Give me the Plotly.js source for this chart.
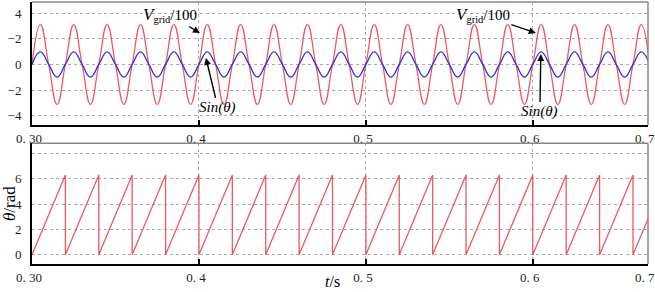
<!DOCTYPE html>
<html>
<head>
<meta charset="utf-8">
<script src="https://cdn.plot.ly/plotly-3.0.1.min.js"></script>
<style>
html,body{margin:0;padding:0;background:#fff;}
#chart{width:655px;height:292px;}
</style>
</head>
<body>
<div id="chart"></div>
<script>
// Time samples (s) at peaks / zero crossings
const waveT = [0.300,0.305,0.310,0.315,0.320,0.325,0.330,0.335,0.340,0.345,
  0.350,0.355,0.360,0.365,0.370,0.375,0.380,0.385,0.390,0.395,
  0.400,0.405,0.410,0.415,0.420,0.425,0.430,0.435,0.440,0.445,
  0.450,0.455,0.460,0.465,0.470,0.475,0.480,0.485,0.490,0.495,
  0.500,0.505,0.510,0.515,0.520,0.525,0.530,0.535,0.540,0.545,
  0.550,0.555,0.560,0.565,0.570,0.575,0.580,0.585,0.590,0.595,
  0.600,0.605,0.610,0.615,0.620,0.625,0.630,0.635,0.640,0.645,
  0.650,0.655,0.660,0.665,0.670];
// Vgrid/100 values at those instants
const vgrid = [0,3.12,0,-3.12,0,3.12,0,-3.12,0,3.12,
  0,-3.12,0,3.12,0,-3.12,0,3.12,0,-3.12,
  0,3.12,0,-3.12,0,3.12,0,-3.12,0,3.12,
  0,-3.12,0,3.12,0,-3.12,0,3.12,0,-3.12,
  0,3.12,0,-3.12,0,3.12,0,-3.12,0,3.12,
  0,-3.12,0,3.12,0,-3.12,0,3.12,0,-3.12,
  0,3.12,0,-3.12,0,3.12,0,-3.12,0,3.12,
  0,-3.12,0,3.12,0];
// Sin(theta) values at those instants
const sinTheta = [0,0.98,0,-0.98,0,0.98,0,-0.98,0,0.98,
  0,-0.98,0,0.98,0,-0.98,0,0.98,0,-0.98,
  0,0.98,0,-0.98,0,0.98,0,-0.98,0,0.98,
  0,-0.98,0,0.98,0,-0.98,0,0.98,0,-0.98,
  0,0.98,0,-0.98,0,0.98,0,-0.98,0,0.98,
  0,-0.98,0,0.98,0,-0.98,0,0.98,0,-0.98,
  0,0.98,0,-0.98,0,0.98,0,-0.98,0,0.98,
  0,-0.98,0,0.98,0];
// Phase angle theta (rad): start, reset instants, end
const thetaT = [0.300,
  0.320,0.320,0.340,0.340,0.360,0.360,0.380,0.380,0.400,0.400,
  0.420,0.420,0.440,0.440,0.460,0.460,0.480,0.480,0.500,0.500,
  0.520,0.520,0.540,0.540,0.560,0.560,0.580,0.580,0.600,0.600,
  0.620,0.620,0.640,0.640,0.660,0.660,
  0.670];
const theta = [0,
  6.28,0,6.28,0,6.28,0,6.28,0,6.28,0,
  6.28,0,6.28,0,6.28,0,6.28,0,6.28,0,
  6.28,0,6.28,0,6.28,0,6.28,0,6.28,0,
  6.28,0,6.28,0,6.28,0,
  3.14];
// Tick labels as printed
const xTickVals = [0.30,0.40,0.50,0.60,0.6689];
const xTickText = ['0. 30','0. 4','0. 5','0. 6','0. 7'];
const y1TickVals = [-4,-2,0,2,4];
const y1TickText = ['\u22124','\u22122','0','\u22122','4'];
const y2TickVals = [0,2,4,6,8];
const y2TickText = ['0','2','4','6',' '];

const RED = 'rgb(238,88,98)';
const BLUE = 'rgb(45,45,225)';
const SERIF = 'Liberation Serif, DejaVu Serif, Times New Roman, serif';
const tickFont = {family:SERIF, size:13, color:'#222'};

const traces = [
  {x:waveT, y:vgrid, type:'scatter', mode:'lines', xaxis:'x', yaxis:'y',
   line:{color:RED, width:1.3, shape:'spline', smoothing:1.3}, name:'Vgrid/100'},
  {x:waveT, y:sinTheta, type:'scatter', mode:'lines', xaxis:'x', yaxis:'y',
   line:{color:BLUE, width:1.3, shape:'spline', smoothing:1.3}, name:'Sin(θ)'},
  {x:thetaT, y:theta, type:'scatter', mode:'lines', xaxis:'x2', yaxis:'y2',
   line:{color:RED, width:1.3}, name:'θ'}
];

const xCommon = {
  range:[0.30,0.6690], tickmode:'array', tickvals:xTickVals, ticktext:xTickText,
  ticks:'inside', ticklen:5, tickwidth:2, tickcolor:'#000',
  showline:true, linecolor:'#000', linewidth:2,
  showgrid:true, gridcolor:'#aaa', griddash:'dot', gridwidth:1,
  zeroline:false, tickfont:tickFont, ticklabeloverflow:'allow', ticklabelshift:-3,
  fixedrange:true
};
const yCommon = {
  tickmode:'array', ticks:'', showline:true, linecolor:'#000', linewidth:2,
  showgrid:true, gridcolor:'#aaa', griddash:'dot', gridwidth:1,
  zeroline:false, tickfont:tickFont, ticklabelstandoff:6, fixedrange:true
};

const annFont = {family:SERIF, size:15, color:'#000'};
const vText = '<i><span style="font-size:17px">V</span></i><sub>grid</sub>/100';
const sText = '<i>Sin(θ)</i>';
const arrow = {showarrow:true, arrowhead:2, arrowsize:1, arrowwidth:1.4, arrowcolor:'#000', font:annFont, xref:'x', yref:'y'};

const layout = {
  width:655, height:292,
  margin:{l:32, r:7, t:2, b:28},
  paper_bgcolor:'#fff', plot_bgcolor:'#fff',
  showlegend:false,
  xaxis:Object.assign({}, xCommon, {anchor:'y', domain:[0,1]}),
  xaxis2:Object.assign({}, xCommon, {anchor:'y2', domain:[0,1]}),
  yaxis:Object.assign({}, yCommon, {anchor:'x', domain:[0.5294,1], range:[-4.75,4.88],
    tickvals:y1TickVals, ticktext:y1TickText}),
  yaxis2:Object.assign({}, yCommon, {anchor:'x2', domain:[0,0.4607], range:[-0.73,8.79],
    tickvals:y2TickVals, ticktext:y2TickText,
    title:{text:'<i>θ</i>/rad', standoff:4,
      font:{family:SERIF, size:17, color:'#000'}}}),
  shapes:[
    {type:'line', xref:'x domain', yref:'y domain', x0:0, x1:1, y0:1, y1:1, line:{color:'#888', width:1.5}},
    {type:'line', xref:'x domain', yref:'y domain', x0:1, x1:1, y0:0, y1:1, line:{color:'#888', width:1.5}},
    {type:'line', xref:'x2 domain', yref:'y2 domain', x0:0, x1:1, y0:1, y1:1, line:{color:'#888', width:1.5}},
    {type:'line', xref:'x2 domain', yref:'y2 domain', x0:1, x1:1, y0:0, y1:1, line:{color:'#888', width:1.5}}
  ],
  annotations:[
    Object.assign({}, arrow, {x:0.4006, y:2.46, ax:-30, ay:-18, text:vText}),
    Object.assign({}, arrow, {x:0.4042, y:0.51, ax:12, ay:50, text:sText}),
    Object.assign({}, arrow, {x:0.6018, y:2.46, ax:-53, ay:-18, text:vText}),
    Object.assign({}, arrow, {x:0.6048, y:0.82, ax:-1, ay:58, text:sText}),
    {xref:'paper', yref:'paper', x:0.4886, y:-0.066, xanchor:'center', yanchor:'middle',
     showarrow:false, text:'<i>t</i>/s',
     font:{family:SERIF, size:16, color:'#000'}}
  ]
};

Plotly.newPlot('chart', traces, layout, {displayModeBar:false, staticPlot:true});
</script>
</body>
</html>
